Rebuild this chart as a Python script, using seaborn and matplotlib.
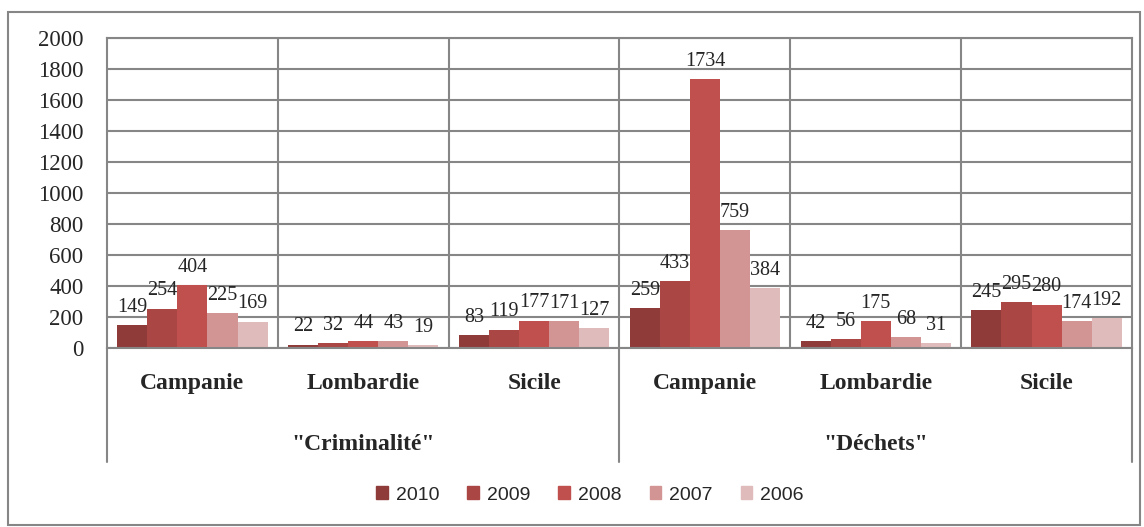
import numpy as np
import pandas as pd
import seaborn as sns
import matplotlib.pyplot as plt
from matplotlib.patches import Rectangle
from matplotlib.lines import Line2D

# data
groups = ['"Criminalité"', '"Déchets"']
regions = ["Campanie", "Lombardie", "Sicile"]
years = ["2010", "2009", "2008", "2007", "2006"]
crim_values = [[149, 254, 404, 225, 169],
               [22, 32, 44, 43, 19],
               [83, 119, 177, 171, 127]]
dech_values = [[259, 433, 1734, 759, 384],
               [42, 56, 175, 68, 31],
               [245, 295, 280, 174, 192]]
colors = ["#8E3B3A", "#AA4644", "#C0504D", "#D39594", "#E0BBBB"]
y_ticks = [0, 200, 400, 600, 800, 1000, 1200, 1400, 1600, 1800, 2000]

rows = []
for g, vals in zip(groups, [crim_values, dech_values]):
    for r, v in zip(regions, vals):
        for yr, val in zip(years, v):
            rows.append({"cat": g + "|" + r, "year": yr, "value": val})
df = pd.DataFrame(rows)
cat_order = [g + "|" + r for g in groups for r in regions]

sns.set_style("white")
plt.rcParams["font.family"] = ["Liberation Serif", "DejaVu Serif"]

W, H = 1144, 527
fig = plt.figure(figsize=(W / 100, H / 100), dpi=100)
x0, x1, ytop, ybot = 107, 1132, 38, 348
ax = fig.add_axes([x0 / W, 1 - ybot / H, (x1 - x0) / W, (ybot - ytop) / H])

sns.barplot(data=df, x="cat", y="value", hue="year", order=cat_order,
            hue_order=years, palette=colors, width=0.88, gap=0,
            saturation=1, ax=ax, legend=False, edgecolor="none")

for cont in ax.containers:
    ax.bar_label(cont, fontsize=14.5, padding=6)

ax.set_ylim(0, 2000)
ax.set_xlim(-0.5, 5.5)
ax.set_yticks(y_ticks)
ax.set_yticklabels([str(t) for t in y_ticks], fontsize=16.5)
ax.tick_params(axis="y", length=0, pad=17)
ax.set_xticks([])
ax.set_xlabel("")
ax.set_ylabel("")
for s in ax.spines.values():
    s.set_color("#868686")
    s.set_linewidth(1.5)
ax.grid(True, axis="y", color="#868686", linewidth=1.5)
for xv in [0.5, 1.5, 2.5, 3.5, 4.5]:
    ax.axvline(xv, color="#868686", linewidth=1.5, zorder=0.5)
ax.set_axisbelow(True)

# multi-level category labels below the axis
trans = ax.get_xaxis_transform()
for i, c in enumerate(cat_order):
    ax.text(i, -0.115, c.split("|")[1], transform=trans, ha="center", va="center",
            fontsize=17, fontweight="bold")
for j, g in enumerate(groups):
    ax.text(1 + 3 * j, -0.31, g, transform=trans, ha="center", va="center",
            fontsize=17, fontweight="bold")
table_bottom = -(462 - ybot) / (ybot - ytop)
for xv in [-0.5, 2.5, 5.5]:
    ax.add_line(Line2D([xv, xv], [0, table_bottom], transform=trans,
                       color="#868686", linewidth=1.5, clip_on=False))

# legend
handles = [Rectangle((0, 0), 1, 1, color=c) for c in colors]
fig.legend(handles, years, loc="center", bbox_to_anchor=(0.5 + 18 / W, 1 - 495 / H),
           ncol=5, frameon=False, handlelength=0.6, handleheight=0.6,
           columnspacing=1.45, handletextpad=0.4,
           prop={"family": "Liberation Sans", "size": 14})

# outer border
fig.add_artist(Rectangle((8 / W, 1 - 525 / H), (1140 - 8) / W, (525 - 12) / H,
                         transform=fig.transFigure, fill=False,
                         edgecolor="#868686", linewidth=1.5))

fig.savefig("out.png", dpi=100)
